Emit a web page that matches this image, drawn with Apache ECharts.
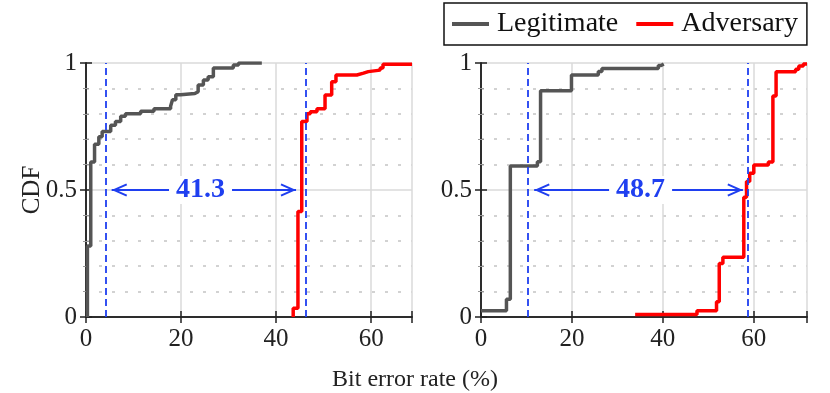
<!DOCTYPE html>
<html>
<head>
<meta charset="UTF-8">
<title>CDF of bit error rate</title>
<script src="https://cdn.jsdelivr.net/npm/echarts@6/dist/echarts.min.js"></script>
<style>
  html, body { margin: 0; padding: 0; background: #fff; }
  #chart { width: 830px; height: 393px; }
</style>
</head>
<body>
<div id="chart"></div>
<script>
// left panel
var legitX1 = [0.3, 0.3, 1.0, 1.8, 2.7, 3.4, 5.2, 6.2, 7.3, 8.3, 11.5, 14.3, 17.8, 18.2, 18.9, 19.9, 22.9, 23.6, 24.7, 25.7, 26.8, 31.0, 32.1, 37.0];
var legitY1 = [0, 0.28, 0.61, 0.68, 0.71, 0.73, 0.755, 0.77, 0.79, 0.80, 0.81, 0.82, 0.83, 0.855, 0.875, 0.88, 0.887, 0.913, 0.933, 0.946, 0.98, 0.992, 1.0, 1.0];
var advX1 = [43.6, 43.6, 44.6, 45.4, 46.5, 47.2, 48.6, 50.3, 51.7, 52.6, 57.0, 58.4, 59.4, 61.9, 62.5, 68.6];
var advY1 = [0, 0.034, 0.415, 0.77, 0.80, 0.808, 0.82, 0.874, 0.926, 0.953, 0.96, 0.966, 0.972, 0.98, 0.995, 0.995];
var xMax1 = 68.6;
var dashX1 = [4.15, 46.25];
var arrowX1 = [5.4, 44.2];
var gapLabel1 = ['41.3', 24.1];

// right panel
var legitX2 = [0, 5.6, 6.45, 12.4, 13.1, 19.9, 25.8, 26.6, 39.0, 39.6, 40.2];
var legitY2 = [0.025, 0.07, 0.594, 0.611, 0.891, 0.953, 0.967, 0.978, 0.99, 0.996, 0.996];
var advX2 = [33.9, 47.5, 51.8, 52.4, 53.2, 57.8, 58.4, 59.1, 60.0, 63.2, 64.2, 64.9, 69.2, 69.9, 70.9, 71.7];
var advY2 = [0.01, 0.025, 0.06, 0.211, 0.235, 0.471, 0.533, 0.566, 0.598, 0.61, 0.87, 0.966, 0.975, 0.988, 0.996, 0.996];
var xMax2 = 71.7;
var dashX2 = [10.3, 58.6];
var arrowX2 = [11.7, 57.6];
var gapLabel2 = ['48.7', 35.1];

var xTicks = [0, 20, 40, 60];
var yTicks = [0, 0.5, 1];

var FONT = 'Liberation Serif';
var BLUE = '#1f3ff0';
var GRAY = '#555555';
var RED = '#ff0000';
// open chevron, tip at the centre of its box
var CHEVRON = 'path://M6,1.2 L6.01,1.2 L6,1.21 Z M6,16 L12,30 L10.3,30.8 L6,20.6 L1.7,30.8 L0,30 Z';

function pairs(xs, ys) {
  return xs.map(function (x, i) { return [x, ys[i]]; });
}

function xAxes(grid, max) {
  var base = {
    type: 'value', gridIndex: grid, min: 0, max: max, interval: 20,
    axisLine: { show: true, lineStyle: { color: '#222', width: 1.5 } },
    axisTick: { show: true, inside: true, length: 6, lineStyle: { color: '#222', width: 1.5 } }
  };
  return [
    Object.assign({}, base, {
      position: 'bottom',
      axisLabel: {
        margin: 10, fontFamily: FONT, fontSize: 25, color: '#222',
        formatter: function (v) { return xTicks.indexOf(v) >= 0 ? String(v) : ''; }
      },
      splitLine: { show: true, lineStyle: { color: '#dadada', width: 1.5 } }
    }),
    Object.assign({}, base, { position: 'top', axisLabel: { show: false }, splitLine: { show: false } })
  ];
}

function yAxes(grid, withName) {
  var base = {
    type: 'value', gridIndex: grid, min: 0, max: 1, interval: 0.5,
    axisLine: { show: true, lineStyle: { color: '#222', width: 1.5 } },
    axisTick: { show: true, inside: true, length: 6, lineStyle: { color: '#222', width: 1.5 } },
    minorTick: { show: true, splitNumber: 5, length: 3, lineStyle: { color: '#999' } }
  };
  return [
    Object.assign({}, base, {
      position: 'left',
      name: withName ? 'CDF' : '',
      nameLocation: 'middle', nameGap: 41, nameMoveOverlap: false,
      nameTextStyle: { fontFamily: FONT, fontSize: 25, color: '#222' },
      axisLabel: {
        margin: 9, fontFamily: FONT, fontSize: 25, color: '#222',
        formatter: function (v) { return yTicks.indexOf(v) >= 0 ? String(v) : ''; }
      },
      splitLine: { show: true, lineStyle: { color: '#dadada', width: 1.5 } },
      minorSplitLine: { show: true, lineStyle: { color: '#c4c4c4', width: 1.5, type: [3, 10] } }
    }),
    Object.assign({}, base, { position: 'right', axisLabel: { show: false }, splitLine: { show: false } })
  ];
}

function panelSeries(grid, lx, ly, ax, ay, dash, arrow, label) {
  var xi = grid * 2, yi = grid * 2;
  return [
    {
      name: 'Legitimate', type: 'line', step: 'end', xAxisIndex: xi, yAxisIndex: yi,
      data: pairs(lx, ly), showSymbol: false, symbol: 'none',
      lineStyle: { color: GRAY, width: 3.5 }, itemStyle: { color: GRAY }, z: 3,
      markLine: {
        silent: true, symbol: 'none', animation: false,
        label: { show: false },
        lineStyle: { color: BLUE, width: 1.8, type: [7, 4] },
        data: dash.map(function (x) { return { xAxis: x }; })
      }
    },
    {
      name: 'Adversary', type: 'line', step: 'end', xAxisIndex: xi, yAxisIndex: yi,
      data: pairs(ax, ay), showSymbol: false, symbol: 'none',
      lineStyle: { color: RED, width: 3.5 }, itemStyle: { color: RED }, z: 4,
      markLine: {
        silent: true, animation: false,
        symbol: [CHEVRON, CHEVRON], symbolSize: [13, 31],
        lineStyle: { color: BLUE, width: 1.8, type: 'solid' },
        label: { show: false },
        data: [[{ coord: [arrow[0], 0.5] }, { coord: [arrow[1], 0.5] }]]
      }
    },
    {
      name: 'gap', type: 'scatter', xAxisIndex: xi, yAxisIndex: yi,
      data: [[label[1], 0.5]], symbol: 'circle', symbolSize: 1, silent: true, z: 6,
      itemStyle: { color: '#fff', opacity: 0 },
      emphasis: { disabled: true },
      label: {
        show: true, position: 'inside', formatter: label[0], opacity: 1,
        fontFamily: FONT, fontWeight: 'bold', fontSize: 28, color: BLUE,
        textBorderWidth: 0, textBorderColor: 'transparent',
        backgroundColor: '#fff', padding: [0, 7]
      }
    }
  ];
}

var chart = echarts.init(document.getElementById('chart'));
chart.setOption({
  animation: false,
  backgroundColor: '#fff',
  title: {
    text: 'Bit error rate (%)', left: 'center', top: 363,
    textStyle: { fontFamily: FONT, fontSize: 24, fontWeight: 'normal', color: '#222' }
  },
  legend: {
    left: 444, top: 3,
    padding: [6, 9, 6, 8],
    borderColor: '#111', borderWidth: 1.5, backgroundColor: '#fff',
    itemWidth: 37, itemHeight: 4, itemGap: 18, icon: 'rect',
    data: ['Legitimate', 'Adversary'],
    textStyle: { fontFamily: FONT, fontSize: 28, color: '#111', padding: [0, 0, 0, 3], lineHeight: 30 }
  },
  grid: [
    { left: 86, top: 63, width: 326, height: 254 },
    { left: 481, top: 63, width: 326, height: 254 }
  ],
  xAxis: xAxes(0, xMax1).concat(xAxes(1, xMax2)),
  yAxis: yAxes(0, true).concat(yAxes(1, false)),
  series: panelSeries(0, legitX1, legitY1, advX1, advY1, dashX1, arrowX1, gapLabel1)
    .concat(panelSeries(1, legitX2, legitY2, advX2, advY2, dashX2, arrowX2, gapLabel2))
});
</script>
</body>
</html>
